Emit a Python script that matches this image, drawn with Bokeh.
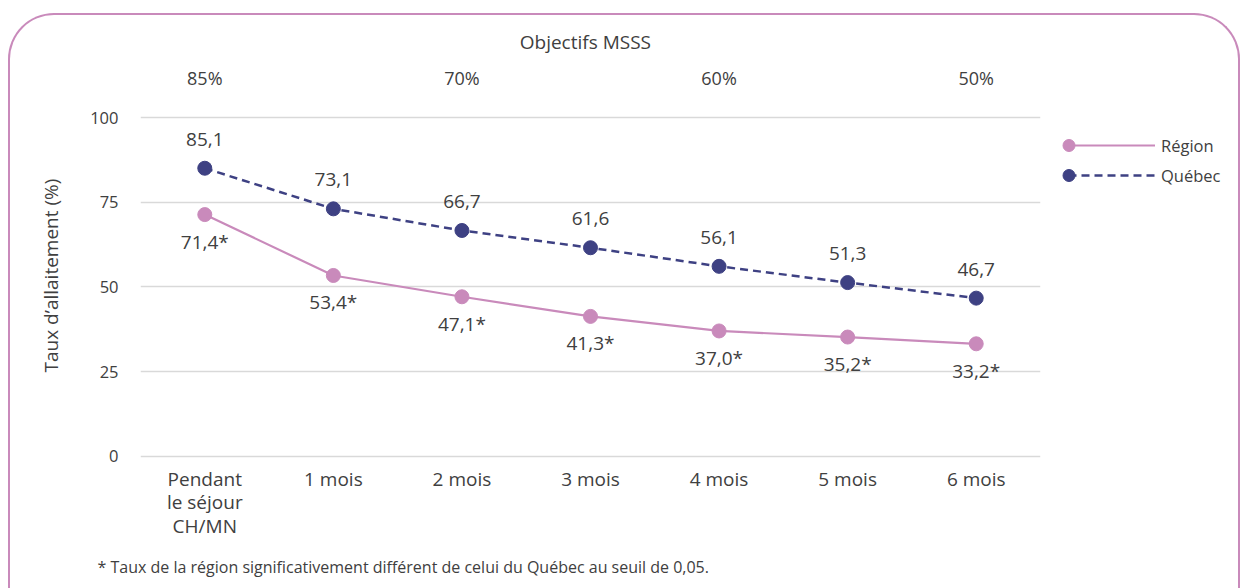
from bokeh.plotting import figure
from bokeh.models import (ColumnDataSource, FactorRange, Range1d, FixedTicker,
                          LabelSet, Label, Legend, LegendItem, Title)
from bokeh.layouts import row
from bokeh.core.properties import value
from bokeh.embed import file_html
from bokeh.resources import INLINE

# ---- data ----
categories = ["Pendant\nle séjour\nCH/MN", "1 mois", "2 mois", "3 mois",
              "4 mois", "5 mois", "6 mois"]
region = [71.4, 53.4, 47.1, 41.3, 37.0, 35.2, 33.2]
quebec = [85.1, 73.1, 66.7, 61.6, 56.1, 51.3, 46.7]
objective_categories = [categories[0], categories[2], categories[4], categories[6]]
objective_labels = ["85%", "70%", "60%", "50%"]
y_ticks = [0, 25, 50, 75, 100]
series_names = ["Région", "Québec"]
title_text = "Objectifs MSSS"
y_label = "Taux d\u2019allaitement (%)"
footnote = "* Taux de la région significativement différent de celui du Québec au seuil de 0,05."

PINK = "#C98ABB"
NAVY = "#3E4183"
TEXT = "#404040"
FONT = "Open Sans"


def fmt(v):
    return f"{v:.1f}".replace(".", ",")


src = ColumnDataSource(dict(
    cat=categories,
    region=region,
    quebec=quebec,
    region_lab=[fmt(v) + "*" for v in region],
    quebec_lab=[fmt(v) for v in quebec],
))
OBJ_Y = 111.9
obj_src = ColumnDataSource(dict(cat=objective_categories, lab=objective_labels,
                                y=[OBJ_Y] * len(objective_labels)))

H = 574
W_MAIN, W_LEG = 1038, 190
p = figure(width=W_MAIN, height=H, x_range=FactorRange(*categories),
           y_range=Range1d(-1, 127), output_backend="svg", toolbar_location=None,
           min_border_left=130, min_border_right=8, min_border_top=11,
           min_border_bottom=130)
p.outline_line_color = None
p.background_fill_color = None
p.border_fill_color = None

# bottom axis (categories)
xa = p.xaxis[0]
xa.axis_line_color = None
xa.major_tick_line_color = None
xa.minor_tick_line_color = None
xa.major_label_text_font = FONT
xa.major_label_text_font_size = "19px"
xa.major_label_text_color = TEXT
xa.major_label_text_line_height = 0.92
xa.major_label_standoff = 0

# y axis
ya = p.yaxis[0]
ya.ticker = FixedTicker(ticks=y_ticks)
ya.axis_line_color = None
ya.major_tick_line_color = None
ya.minor_tick_line_color = None
ya.major_label_text_font = FONT
ya.major_label_text_font_size = "16.5px"
ya.major_label_text_color = TEXT
ya.major_label_standoff = 16

p.add_layout(Title(text=y_label, align="left", offset=87, standoff=48,
                   text_font=FONT, text_font_size="19px", text_font_style="normal",
                   text_color=TEXT), "left")

p.xgrid.grid_line_color = None
p.ygrid.grid_line_color = "#D9D9D9"
p.ygrid.grid_line_width = 1.3

# series
p.line("cat", "region", source=src, line_color=PINK, line_width=2.2)
p.line("cat", "quebec", source=src, line_color=NAVY, line_width=2.5, line_dash="8 5")
p.scatter("cat", "region", source=src, size=14, fill_color=PINK, line_color=PINK)
p.scatter("cat", "quebec", source=src, size=14, fill_color=NAVY, line_color=NAVY)

# data labels
p.add_layout(LabelSet(x="cat", y="quebec", text="quebec_lab", source=src,
                      y_offset=29, text_align="center", text_baseline="middle",
                      text_font=value(FONT), text_font_size=value("19px"),
                      text_color=TEXT))
p.add_layout(LabelSet(x="cat", y="region", text="region_lab", source=src,
                      y_offset=-27, text_align="center", text_baseline="middle",
                      text_font=value(FONT), text_font_size=value("19px"),
                      text_color=TEXT))

# objectives + their heading (inside the frame, above 100)
p.add_layout(LabelSet(x="cat", y="y", text="lab", source=obj_src,
                      text_align="center", text_baseline="middle",
                      text_font=value(FONT), text_font_size=value("18px"),
                      text_color=TEXT))
p.add_layout(Label(x=3.46, y=122.3, text=title_text, text_align="center",
                   text_baseline="middle", text_font=FONT, text_font_size="19px",
                   text_color=TEXT))

# footnote
p.add_layout(Title(text=footnote, align="left", offset=-43, standoff=22,
                   text_font=FONT, text_font_size="16px", text_font_style="normal",
                   text_color=TEXT), "below")

# ---- legend panel ----
q = figure(width=W_LEG, height=H, x_range=FactorRange(*categories),
           y_range=Range1d(1000, 1001), output_backend="svg", toolbar_location=None,
           x_axis_location=None, y_axis_location=None,
           min_border=0, min_border_left=0, min_border_right=0,
           min_border_top=0, min_border_bottom=0)
q.outline_line_color = None
q.background_fill_color = None
q.border_fill_color = None
q.grid.visible = False
lr = q.line("cat", "region", source=src, line_color=PINK, line_width=2.2)
lq = q.line("cat", "quebec", source=src, line_color=NAVY, line_width=2.5, line_dash="8 5")
sr = q.scatter("cat", "region", source=src, size=14, fill_color=PINK, line_color=PINK)
sq = q.scatter("cat", "quebec", source=src, size=14, fill_color=NAVY, line_color=NAVY)

VY = 269
leg_lines = Legend(items=[LegendItem(label=series_names[0], renderers=[lr]),
                          LegendItem(label=series_names[1], renderers=[lq])],
                   location=(20, VY), orientation="vertical",
                   glyph_width=87, glyph_height=30, spacing=0, padding=0,
                   margin=0, label_standoff=6, label_height=30,
                   border_line_color=None, background_fill_alpha=0,
                   label_text_font=FONT, label_text_font_size="16.5px",
                   label_text_color=TEXT)
leg_pts = Legend(items=[LegendItem(label=" ", renderers=[sr]),
                        LegendItem(label=" ", renderers=[sq])],
                 location=(3.5, VY), orientation="vertical",
                 glyph_width=33, glyph_height=30, spacing=0, padding=0,
                 margin=0, label_standoff=0, label_height=30, label_width=0,
                 border_line_color=None, background_fill_alpha=0,
                 label_text_font=FONT, label_text_font_size="16px")
q.add_layout(leg_lines, "center")
q.add_layout(leg_pts, "center")

lay = row(p, q, styles={"border": f"2px solid {PINK}", "border-bottom": "none",
                        "border-radius": "46px 46px 0 0", "margin": "13px 0 0 8px"})

open("out.html", "w").write(file_html(lay, INLINE))
